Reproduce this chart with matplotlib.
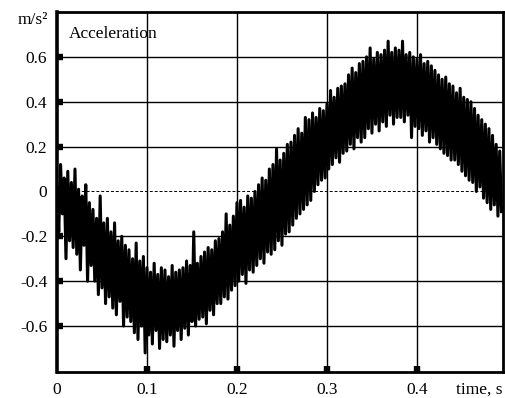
import numpy as np
import matplotlib
matplotlib.use('Agg')
import matplotlib.pyplot as plt

plt.rcParams['font.family'] = ['Liberation Serif', 'DejaVu Serif']

dt = 0.002
accel = [
    0.02, -0.18, 0.12, -0.10, 0.06, -0.30, 0.09, -0.22, 0.04, -0.25,
    0.10, -0.28, 0.01, -0.35, -0.02, -0.24, 0.03, -0.40, -0.05, -0.33,
    -0.08, -0.40, -0.12, -0.46, -0.02, -0.43, -0.14, -0.50, -0.12, -0.47,
    -0.18, -0.52, -0.14, -0.55, -0.22, -0.49, -0.20, -0.60, -0.24, -0.56,
    -0.26, -0.58, -0.30, -0.63, -0.23, -0.66, -0.31, -0.60, -0.29, -0.72,
    -0.34, -0.64, -0.36, -0.68, -0.32, -0.62, -0.37, -0.70, -0.34, -0.66,
    -0.35, -0.67, -0.38, -0.64, -0.33, -0.69, -0.36, -0.62, -0.35, -0.66,
    -0.34, -0.61, -0.31, -0.64, -0.33, -0.58, -0.18, -0.60, -0.32, -0.57,
    -0.29, -0.56, -0.27, -0.59, -0.25, -0.53, -0.26, -0.55, -0.22, -0.50,
    -0.21, -0.50, -0.18, -0.47, -0.10, -0.48, -0.15, -0.44, -0.11, -0.42,
    -0.05, -0.40, -0.04, -0.37, -0.07, -0.41, -0.02, -0.35, -0.03, -0.36,
    0.00, -0.33, 0.03, -0.30, 0.06, -0.32, 0.05, -0.27, 0.10, -0.28,
    0.12, -0.26, 0.19, -0.22, 0.14, -0.24, 0.17, -0.19, 0.21, -0.18,
    0.22, -0.15, 0.25, -0.12, 0.28, -0.10, 0.26, -0.08, 0.33, -0.06,
    0.32, -0.04, 0.35, 0.00, 0.33, 0.03, 0.37, 0.05, 0.36, 0.06,
    0.39, 0.10, 0.45, 0.12, 0.42, 0.15, 0.46, 0.13, 0.47, 0.17,
    0.48, 0.18, 0.52, 0.21, 0.55, 0.19, 0.53, 0.24, 0.57, 0.22,
    0.58, 0.24, 0.60, 0.28, 0.64, 0.26, 0.59, 0.30, 0.62, 0.27,
    0.61, 0.31, 0.63, 0.29, 0.67, 0.34, 0.62, 0.30, 0.64, 0.33,
    0.63, 0.33, 0.67, 0.31, 0.61, 0.34, 0.62, 0.24, 0.60, 0.29,
    0.59, 0.28, 0.61, 0.25, 0.57, 0.27, 0.58, 0.22, 0.56, 0.24,
    0.54, 0.21, 0.52, 0.19, 0.50, 0.17, 0.51, 0.16, 0.48, 0.14,
    0.47, 0.14, 0.44, 0.12, 0.46, 0.09, 0.42, 0.07, 0.41, 0.05,
    0.40, 0.04, 0.37, 0.00, 0.34, 0.02, 0.32, -0.03, 0.30, -0.05,
    0.28, -0.08, 0.25, -0.06, 0.21, -0.11, 0.18, -0.09,
]
time = np.arange(len(accel)) * dt

xticks = [0, 0.1, 0.2, 0.3, 0.4]
xlabels = ['0', '0.1', '0.2', '0.3', '0.4']
yticks = [-0.6, -0.4, -0.2, 0, 0.2, 0.4, 0.6]
ylabels = ['-0.6', '-0.4', '-0.2', '0', '0.2', '0.4', '0.6']

fig = plt.figure(figsize=(5.06, 3.98), dpi=100)
ax = fig.add_axes([0.1126, 0.0653, 0.8814, 0.9045])

# grid (solid), zero line dashed
for x in xticks[1:]:
    ax.axvline(x, color='black', lw=1.0, zorder=1)
for y in yticks:
    if y == 0:
        ax.axhline(y, color='black', lw=0.7, ls=(0, (3, 2)), zorder=1)
    else:
        ax.axhline(y, color='black', lw=1.0, zorder=1)

ax.plot(time, accel, color='black', lw=2.2, zorder=3)

ax.set_xlim(0, 0.4956)
ax.set_ylim(-0.805, 0.80)
ax.set_xticks(xticks)
ax.set_xticklabels(xlabels)
ax.set_yticks(yticks)
ax.set_yticklabels(ylabels)
ax.tick_params(direction='in', length=4.6, width=4.6, labelsize=12.5, color='black')
ax.tick_params(axis='y', pad=7)
ax.tick_params(axis='x', pad=7)
ax.xaxis.get_major_ticks()[0].tick1line.set_visible(False)

for s in ax.spines.values():
    s.set_linewidth(2.0)
    s.set_zorder(4)
ax.spines['left'].set_linewidth(2.6)

ax.text(0.027, 0.94, 'Acceleration', transform=ax.transAxes, fontsize=12.5,
        ha='left', va='center', zorder=5)
ax.text(-0.02, 0.978, 'm/s²', transform=ax.transAxes, fontsize=12.5,
        ha='right', va='center')
ax.text(1.0, -0.05, 'time, s', transform=ax.transAxes, fontsize=12.5,
        ha='right', va='center')

plt.savefig('out.png', dpi=100)
